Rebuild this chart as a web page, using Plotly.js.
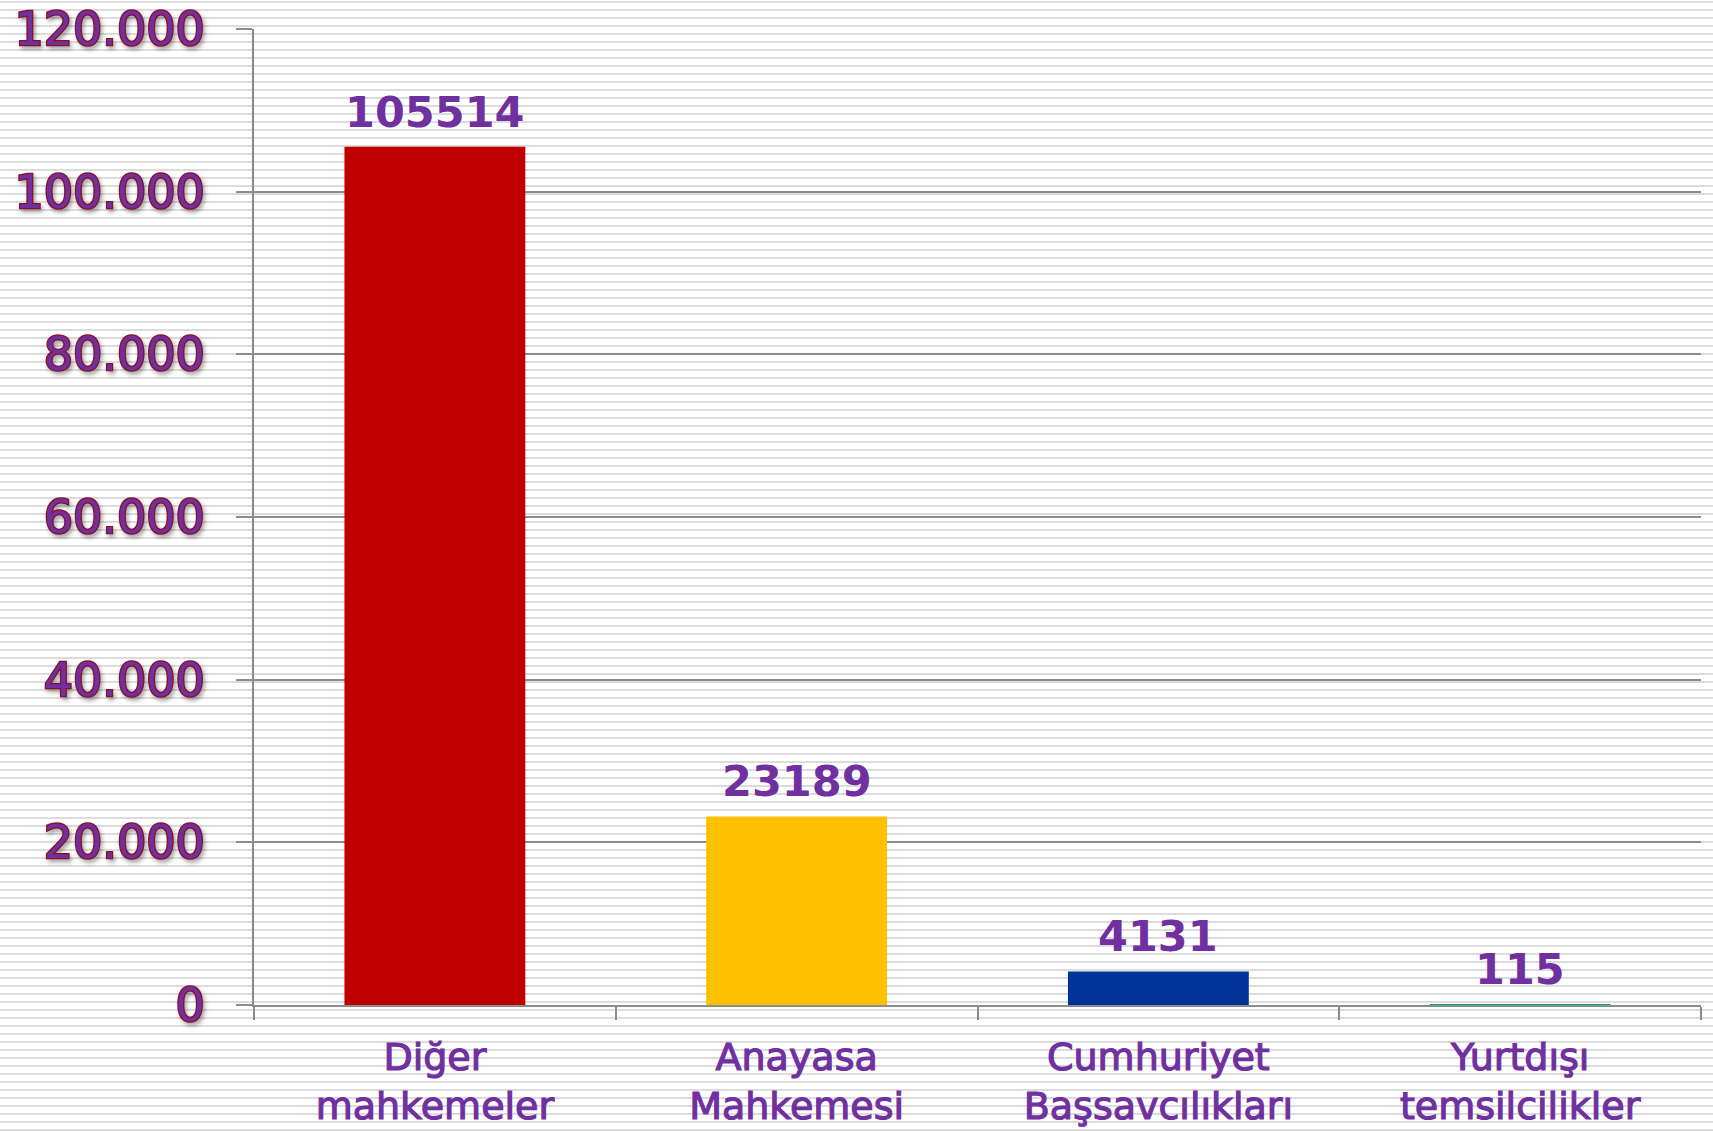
<!DOCTYPE html>
<html>
<head>
<meta charset="utf-8">
<script src="https://cdn.plot.ly/plotly-3.0.1.min.js"></script>
<style>
  html, body { margin: 0; padding: 0; }
  body {
    width: 1713px; height: 1131px;
    background: repeating-linear-gradient(to bottom, #ffffff 0px, #ffffff 1px, #dcdcdc 1px, #dcdcdc 3px, #ffffff 3px, #ffffff 8px);
  }
  #grafico { width: 1713px; height: 1131px; }
  .ytick text {
    stroke: #8b1020;
    stroke-width: 2.5px;
    paint-order: stroke;
    filter: drop-shadow(2px 3px 2px rgba(0,0,0,0.35));
  }
  .xtick text {
    stroke: #7030a0;
    stroke-width: 1.2px;
  }
</style>
</head>
<body>
<div id="grafico"></div>
<script>
// Kategoriler ve değerler
let kategoriler = ['Diğer<br>mahkemeler', 'Anayasa<br>Mahkemesi', 'Cumhuriyet<br>Başsavcılıkları', 'Yurtdışı<br>temsilcilikler'];
let degerler = [105514, 23189, 4131, 115];
let renkler = ['#c00000', '#ffc000', '#003399', '#00b050'];
let yTickDegerleri = [0, 20000, 40000, 60000, 80000, 100000, 120000];

let mor = '#7030a0';
let gri = '#8c8c8c';

let cubuklar =
{
    x: kategoriler,
    y: degerler,
    type: 'bar',
    marker: { color: renkler },
    hoverinfo: 'none'
};

// veri etiketleri
let etiketler = kategoriler.map((k, i) => ({
    x: k,
    y: degerler[i],
    text: String(degerler[i]),
    showarrow: false,
    yanchor: 'bottom',
    yshift: 8,
    font: { family: 'DejaVu Sans', size: 43, color: mor, weight: 'bold' }
}));

let layout =
{
    width: 1713,
    height: 1131,
    margin: { l: 254, r: 12, t: 29, b: 126 },
    paper_bgcolor: 'rgba(0,0,0,0)',
    plot_bgcolor: 'rgba(0,0,0,0)',
    separators: ',.',
    bargap: 0.5,
    showlegend: false,
    font: { family: 'DejaVu Sans' },
    xaxis: {
        showline: true,
        linecolor: gri,
        linewidth: 2,
        tickson: 'boundaries',
        ticks: 'outside',
        ticklen: 13,
        tickcolor: gri,
        tickwidth: 2,
        showgrid: false,
        ticklabelstandoff: 17,
        tickfont: { family: 'DejaVu Sans', size: 38, color: mor }
    },
    yaxis: {
        range: [0, 120000],
        tickvals: yTickDegerleri,
        tickformat: ',d',
        showline: true,
        linecolor: gri,
        linewidth: 2,
        ticks: 'outside',
        ticklen: 16,
        tickcolor: gri,
        tickwidth: 2,
        gridcolor: gri,
        gridwidth: 2,
        zeroline: false,
        ticklabelstandoff: 22,
        ticklabeloverflow: 'allow',
        tickfont: { family: 'DejaVu Sans', size: 46, color: mor }
    },
    annotations: etiketler
};

let contenedor = document.getElementById('grafico');
Plotly.newPlot(contenedor, [cubuklar], layout, { displayModeBar: false, staticPlot: true });
</script>
</body>
</html>
